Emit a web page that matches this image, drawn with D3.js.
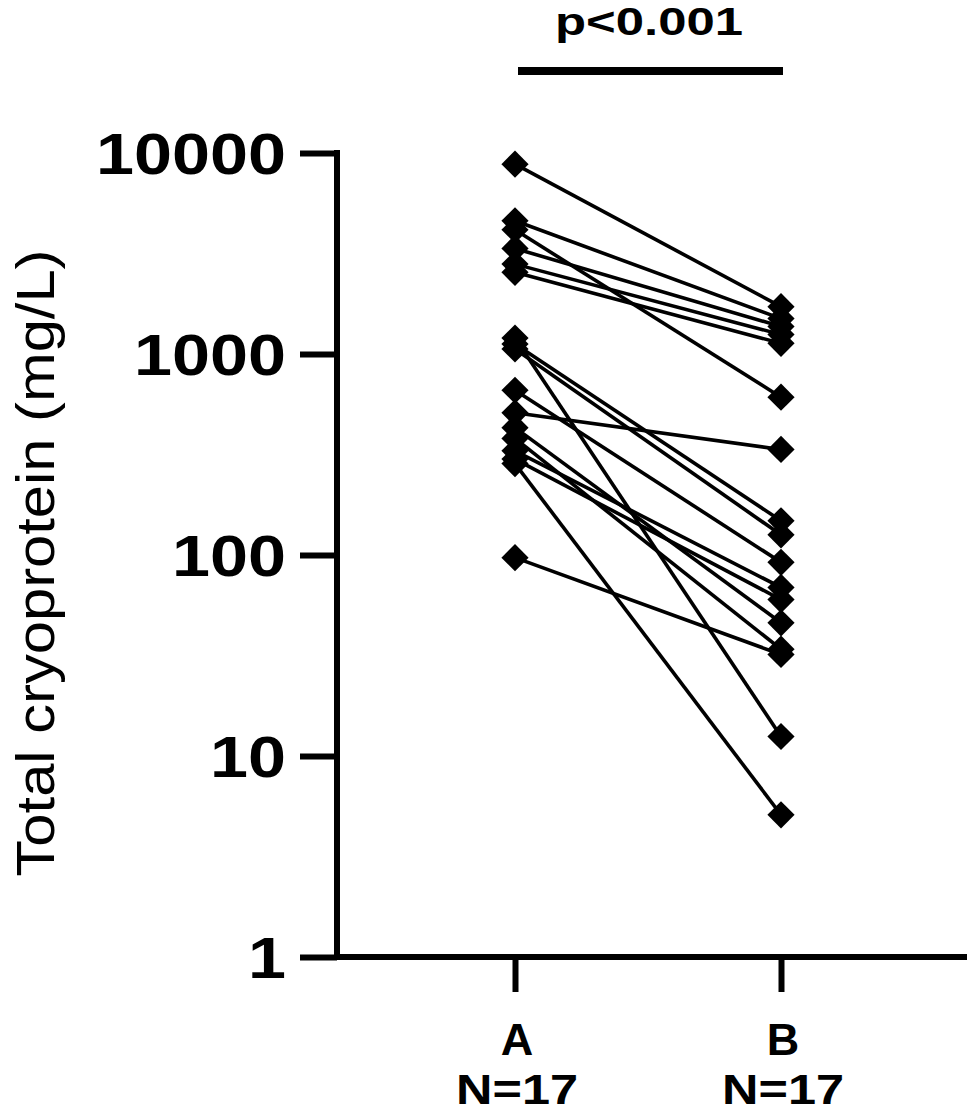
<!DOCTYPE html>
<html>
<head>
<meta charset="utf-8">
<script src="https://cdn.jsdelivr.net/npm/d3@7"></script>
<style>
  html, body { margin: 0; padding: 0; background: #fff; }
  svg { display: block; }
</style>
</head>
<body>
<svg id="chart" width="967" height="1116"></svg>
<script>
// ---- data ----
const groups = ["A", "B"];
const groupN = ["N=17", "N=17"];
const valuesA = [8800, 4600, 4150, 3350, 2800, 2550, 1200, 1120, 1060, 660, 510, 430, 380, 330, 300, 285, 97];
const valuesB = [1720, 1500, 610, 1370, 1250, 1130, 12.5, 148, 126, 92, 335, 46, 34, 69, 60, 5.1, 32];
const yTicks = [1, 10, 100, 1000, 10000];
const yTitle = "Total cryoprotein (mg/L)";
const pLabel = "p<0.001";

// ---- layout ----
const svg = d3.select("#chart");
const axisX = 337, axisBottom = 957, axisTop = 153, rightEdge = 967;
const font = "'Liberation Sans', Arial, sans-serif";

const y = d3.scaleLog().domain([1, 10000]).range([axisBottom, axisTop]);
const x = d3.scalePoint().domain(groups).range([515, 781]);

const pairs = valuesA.map((a, i) => ({ a, b: valuesB[i] }));

// connecting lines
svg.append("g").selectAll("line").data(pairs).join("line")
  .attr("x1", x("A")).attr("x2", x("B"))
  .attr("y1", d => y(d.a)).attr("y2", d => y(d.b))
  .attr("stroke", "#000").attr("stroke-width", 3.6);

// diamonds
const diamond = d3.symbol().type(d3.symbolSquare).size(370);
const pts = [];
pairs.forEach(d => { pts.push({ g: "A", v: d.a }); pts.push({ g: "B", v: d.b }); });
svg.append("g").selectAll("path").data(pts).join("path")
  .attr("d", diamond)
  .attr("transform", d => `translate(${x(d.g)},${y(d.v)}) rotate(45)`)
  .attr("fill", "#000");

// y axis
const yAxis = d3.axisLeft(y).tickValues(yTicks).tickFormat(d3.format("d"))
  .tickSize(37).tickPadding(14);
const gy = svg.append("g").attr("transform", `translate(${axisX},0)`).call(yAxis);
gy.select(".domain").remove();
gy.selectAll(".tick line").attr("stroke", "#000").attr("stroke-width", 6);
gy.selectAll(".tick text")
  .attr("font-family", font).attr("font-weight", "bold").attr("font-size", 58)
  .attr("fill", "#000").attr("dy", "0.36em")
  .attr("textLength", d => String(d).length * 38)
  .attr("lengthAdjust", "spacingAndGlyphs");
svg.append("line").attr("x1", axisX).attr("x2", axisX)
  .attr("y1", axisTop - 3).attr("y2", axisBottom + 3)
  .attr("stroke", "#000").attr("stroke-width", 6);

// x axis
const xAxis = d3.axisBottom(x).tickSize(35).tickFormat("");
const gx = svg.append("g").attr("transform", `translate(0,${axisBottom})`).call(xAxis);
gx.select(".domain").remove();
gx.selectAll(".tick line").attr("stroke", "#000").attr("stroke-width", 6);
svg.append("line").attr("x1", axisX - 3).attr("x2", rightEdge)
  .attr("y1", axisBottom).attr("y2", axisBottom)
  .attr("stroke", "#000").attr("stroke-width", 6);

// group labels
groups.forEach((g, i) => {
  svg.append("text").attr("x", x(g) + 2).attr("y", 1055)
    .attr("text-anchor", "middle").attr("font-family", font)
    .attr("font-weight", "bold").attr("font-size", 45).attr("fill", "#000")
    .text(g);
  svg.append("text").attr("x", x(g) + 2).attr("y", 1104)
    .attr("text-anchor", "middle").attr("font-family", font)
    .attr("font-weight", "bold").attr("font-size", 43).attr("fill", "#000")
    .attr("textLength", 122).attr("lengthAdjust", "spacingAndGlyphs")
    .text(groupN[i]);
});

// y title
svg.append("text")
  .attr("transform", `translate(54,563) rotate(-90)`)
  .attr("text-anchor", "middle").attr("font-family", font)
  .attr("font-size", 53).attr("fill", "#000")
  .attr("textLength", 627).attr("lengthAdjust", "spacingAndGlyphs")
  .text(yTitle);

// significance bar
svg.append("line").attr("x1", x("A") + 3).attr("x2", x("B") + 2)
  .attr("y1", 71).attr("y2", 71)
  .attr("stroke", "#000").attr("stroke-width", 8);
svg.append("text").attr("x", (x("A") + x("B")) / 2 + 1).attr("y", 35)
  .attr("text-anchor", "middle").attr("font-family", font)
  .attr("font-weight", "bold").attr("font-size", 38).attr("fill", "#000")
  .attr("textLength", 188).attr("lengthAdjust", "spacingAndGlyphs")
  .text(pLabel);
</script>
</body>
</html>
